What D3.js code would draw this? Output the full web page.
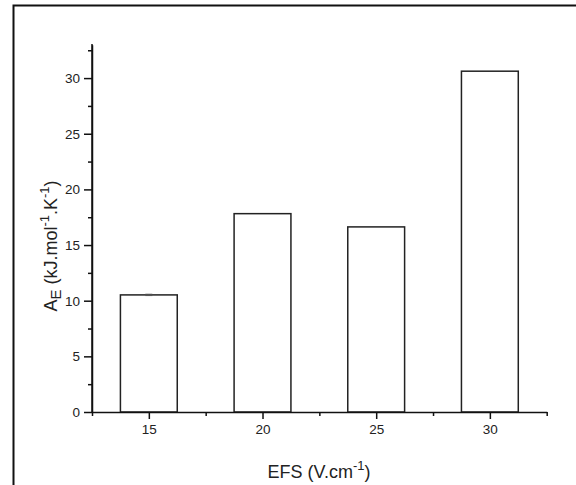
<!DOCTYPE html>
<html><head><meta charset="utf-8">
<script src="https://cdn.jsdelivr.net/npm/d3@7"></script>
<style>body{margin:0;background:#fff}svg{display:block}</style>
</head><body>
<script>
const categories = [15, 20, 25, 30];
const values = [10.52, 17.82, 16.63, 30.62];
const errors = [0.06, 0, 0, 0];
const yTicks = [0, 5, 10, 15, 20, 25, 30];
const xTicks = [15, 20, 25, 30];

const W = 576, H = 485;
const FONT = "Liberation Sans, Arial, sans-serif";
const svg = d3.select("body").append("svg").attr("width", W).attr("height", H);
svg.append("rect").attr("width", W).attr("height", H).attr("fill", "#fff");
// frame (left + top)
svg.append("path").attr("d", `M13.5,${H} L13.5,5.5 L${W},5.5`).attr("fill","none").attr("stroke","#111").attr("stroke-width",2);

const x = d3.scaleLinear().domain([12.5, 32.5]).range([92, 546.7]);
const y = d3.scaleLinear().domain([0, 33]).range([412, 44.7]);
const barW = 2.5;
const col = "#222";

svg.selectAll("rect.bar").data(categories).join("rect").attr("class","bar")
  .attr("x", d => x(d - barW/2)).attr("width", d => x(d + barW/2) - x(d - barW/2))
  .attr("y", (d,i) => y(values[i])).attr("height", (d,i) => y(0) - y(values[i]))
  .attr("fill","#fff").attr("stroke",col).attr("stroke-width",1.5);

// error bars
categories.forEach((c,i) => {
  if (!errors[i]) return;
  const g = svg.append("g").attr("stroke","#555").attr("stroke-width",1);
  g.append("line").attr("x1",x(c)).attr("x2",x(c)).attr("y1",y(values[i]-errors[i])).attr("y2",y(values[i]+errors[i]));
  g.append("line").attr("x1",x(c)-3.5).attr("x2",x(c)+3.5).attr("y1",y(values[i]+errors[i])).attr("y2",y(values[i]+errors[i]));
  g.append("line").attr("x1",x(c)-3.5).attr("x2",x(c)+3.5).attr("y1",y(values[i]-errors[i])).attr("y2",y(values[i]-errors[i]));
});

// y axis
svg.append("g").attr("transform","translate(92,0)")
  .call(d3.axisLeft(y).tickValues(yTicks).tickSize(8).tickSizeOuter(0).tickPadding(4));
svg.append("g").attr("transform","translate(92,0)")
  .call(d3.axisLeft(y).tickValues([2.5,7.5,12.5,17.5,22.5,27.5,32.5]).tickSize(4).tickSizeOuter(0).tickFormat(""))
  .select(".domain").remove();
// x axis
svg.append("g").attr("transform","translate(0,412)")
  .call(d3.axisBottom(x).tickValues(xTicks).tickSize(7).tickSizeOuter(0).tickPadding(5));
svg.append("g").attr("transform","translate(0,412)")
  .call(d3.axisBottom(x).tickValues([12.5,17.5,22.5,27.5,32.5]).tickSize(4).tickSizeOuter(0).tickFormat(""))
  .select(".domain").remove();

svg.selectAll(".domain, .tick line").attr("stroke","#111").attr("stroke-width",1.5);
svg.selectAll(".tick text").attr("font-family",FONT).attr("font-size",13.5).attr("fill","#222");
svg.append("line").attr("x1",92).attr("x2",92).attr("y1",412.5).attr("y2",44).attr("stroke","#111").attr("stroke-width",1.5);

// axis titles
const xt = svg.append("text").attr("x",319).attr("y",478).attr("text-anchor","middle")
  .attr("font-family",FONT).attr("font-size",18).attr("fill","#222");
xt.append("tspan").text("EFS (V.cm");
xt.append("tspan").attr("dy",-8).attr("font-size",13).text("-1");
xt.append("tspan").attr("dy",8).text(")");

const yt = svg.append("text").attr("transform","translate(57,246) rotate(-90)").attr("text-anchor","middle")
  .attr("font-family",FONT).attr("font-size",18).attr("fill","#222");
yt.append("tspan").text("A");
yt.append("tspan").attr("dy",4).attr("font-size",15).text("E");
yt.append("tspan").attr("dy",-4).text(" (kJ.mol");
yt.append("tspan").attr("dy",-8).attr("font-size",13).text("-1");
yt.append("tspan").attr("dy",8).text(".K");
yt.append("tspan").attr("dy",-8).attr("font-size",13).text("-1");
yt.append("tspan").attr("dy",8).text(")");
</script>
</body></html>
